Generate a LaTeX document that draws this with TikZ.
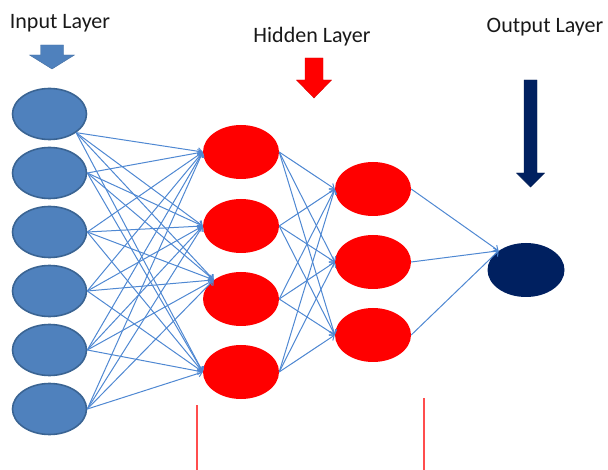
\documentclass[tikz,border=0pt]{standalone}
\usepackage{fontspec}
\setmainfont{Carlito}
\usepackage{tikz}
\usetikzlibrary{positioning,shapes.geometric,arrows.meta}
\definecolor{inblue}{HTML}{4F81BD}
\definecolor{inrim}{HTML}{3A6493}
\definecolor{linkblue}{HTML}{4F88D2}
\definecolor{outnavy}{HTML}{002060}
\definecolor{guidered}{HTML}{FF4D4D}
% block arrow pointing down: colour, centre x, shaft half width,
% head half width, top y, neck y, tip y
\newcommand{\layerarrow}[7]{%
  \filldraw[fill=#1,draw=#1!85!black,line width=0.4pt]
    (#2-#3,#5) -- (#2+#3,#5) -- (#2+#3,#6) -- (#2+#4,#6) -- (#2,#7)
    -- (#2-#4,#6) -- (#2-#3,#6) -- cycle;}
\tikzset{
  % --- neurons -----------------------------------------------------------------
  neuron/.style={ellipse,inner sep=0pt,minimum width=76pt,minimum height=54pt},
  inneuron/.style={neuron,fill=inblue,draw=inrim,line width=1.6pt,
                   minimum width=74pt,minimum height=51pt},
  hidneuron/.style={neuron,fill=red},
  outneuron/.style={neuron,fill=outnavy,minimum width=77pt},
  % --- weights -----------------------------------------------------------------
  link/.style={-{Straight Barb[length=4pt,width=7pt]},linkblue,line width=1pt},
  % --- captions and guide lines ------------------------------------------------
  laylab/.style={font=\fontsize{22}{26}\selectfont,text=black!90,inner sep=0pt,
                 anchor=base},
  guide/.style={guidered,line width=1.1pt},
}

\begin{document}
\begin{tikzpicture}[x=1pt, y=-1pt]
  \useasboundingbox (0,0) rectangle (608,470);

  \node[laylab] (capin)  at (60,29)  {Input Layer};
  \node[laylab] (caphid) at (312,43) {Hidden Layer};
  \node[laylab] (capout) at (545,33) {Output Layer};

  \layerarrow{inblue}{52}{11.5}{22.5}{45}{55}{69}
  \layerarrow{red}{314}{9}{17.5}{58}{80}{98}
  \layerarrow{outnavy}{530.5}{6.5}{14}{80}{173}{187}

  \node[inneuron] (i1) at (49.5,114) {};
  \node[inneuron] (i2) at (49.5,173) {};
  \node[inneuron] (i3) at (49.5,232) {};
  \node[inneuron] (i4) at (49.5,291) {};
  \node[inneuron] (i5) at (49.5,350) {};
  \node[inneuron] (i6) at (49.5,409) {};

  \node[hidneuron] (h1) at (241,152) {};
  \node[hidneuron] (h2) at (241,226) {};
  \node[hidneuron] (h3) at (241,299) {};
  \node[hidneuron] (h4) at (241,372) {};

  \node[hidneuron] (g1) at (373,189) {};
  \node[hidneuron] (g2) at (373,262) {};
  \node[hidneuron] (g3) at (373,335) {};

  \node[outneuron] (o1) at (526,270) {};

  % fully connected layers
  \foreach \a/\s in {i1/-35,i2/east,i3/east,i4/east,i5/east,i6/east}
    \foreach \b/\t in {h1/west,h2/west,h3/145,h4/west}
      \draw[link] (\a.\s) -- (\b.\t);
  \foreach \a in {h1,h2,h3,h4}
    \foreach \b in {g1,g2,g3}
      \draw[link] (\a.east) -- (\b.west);
  \foreach \a in {g1,g2,g3}
    \draw[link] (\a.east) -- (o1.145);

  \coordinate (gl) at (197,405); \coordinate (gl') at (197,470);
  \coordinate (gr) at (424,398); \coordinate (gr') at (424,470);
  \draw[guide] (gl) -- (gl');
  \draw[guide] (gr) -- (gr');
\end{tikzpicture}
\end{document}
